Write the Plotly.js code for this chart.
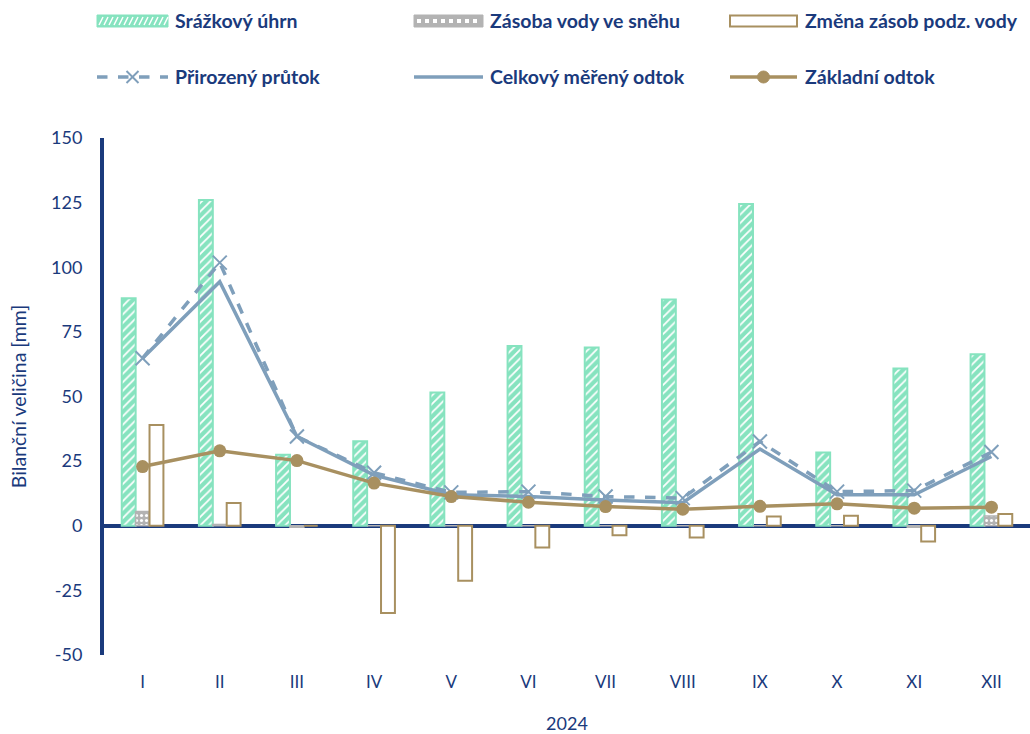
<!DOCTYPE html>
<html>
<head>
<meta charset="utf-8">
<script src="https://cdn.plot.ly/plotly-3.0.1.min.js"></script>
<style>html,body{margin:0;padding:0;background:#fff;}#chart{width:1030px;height:734px;}</style>
</head>
<body>
<div id="chart"></div>
<script>
// ---- data ----
var months = ['I','II','III','IV','V','VI','VII','VIII','IX','X','XI','XII'];
var precipitation = [88, 126, 27.5, 32.7, 51.5, 69.5, 69, 87.5, 124.5, 28.3, 60.8, 66.3];
var snowStorage = [5.5, 0.5, -0.6, 0, 0, 0, 0, 0, 0, 0, -0.6, 3.8];
var groundwaterChange = [39, 8.8, 0, -33.8, -21.3, -8.4, -3.7, -4.5, 3.6, 3.9, -6.1, 4.5];
var naturalFlow = [64.8, 101.8, 34.5, 20.5, 12.9, 13.2, 11.3, 10.7, 32.6, 13.2, 13.6, 28.5];
var measuredOutflow = [64.8, 94.4, 34.5, 19.6, 12, 11.3, 10, 8.9, 29.7, 12, 12, 26.8];
var baseFlow = [22.9, 29, 25.2, 16.5, 11.3, 9.1, 7.4, 6.4, 7.5, 8.5, 6.8, 7.2];
var seriesNames = ['Srážkový úhrn','Zásoba vody ve sněhu','Změna zásob podz. vody','Přirozený průtok','Celkový měřený odtok','Základní odtok'];
var yTicks = [-50,-25,0,25,50,75,100,125,150];

// ---- styles ----
var NAVY = '#1a3a7c';
var MINT = '#86e3bf';
var GREY = '#b3b3b3';
var TAN = '#a89060';
var BLUE = '#7f9fbb';
var FONT = 'Lato, "Open Sans", sans-serif';

var W = 1030, H = 734, ML = 104, MR = 0, MT = 138, MB = 79;
var PW = W - ML - MR, PH = H - MT - MB;
function px(x){ return (x - ML) / PW; }
function py(y){ return (H - MB - y) / PH; }

var traces = [
  {type:'bar', x:months, y:precipitation, name:seriesNames[0],
   marker:{color:MINT, line:{color:MINT, width:2},
           pattern:{shape:'/', fgcolor:'#ffffff', bgcolor:MINT, size:6, solidity:0.3, fillmode:'replace'}}},
  {type:'bar', x:months, y:snowStorage, name:seriesNames[1],
   marker:{color:GREY, line:{color:GREY, width:1.5},
           pattern:{shape:'.', fgcolor:'#ffffff', bgcolor:GREY, size:5, solidity:0.3, fillmode:'replace'}}},
  {type:'bar', x:months, y:groundwaterChange, name:seriesNames[2],
   marker:{color:'#ffffff', line:{color:TAN, width:2}}},
  {type:'scatter', mode:'lines+markers', x:months, y:naturalFlow, name:seriesNames[3],
   line:{color:BLUE, width:3.5, dash:'dash'},
   marker:{symbol:'x-thin', size:14, line:{color:BLUE, width:2}, color:BLUE}},
  {type:'scatter', mode:'lines', x:months, y:measuredOutflow, name:seriesNames[4],
   line:{color:BLUE, width:3.5}},
  {type:'scatter', mode:'lines+markers', x:months, y:baseFlow, name:seriesNames[5],
   line:{color:TAN, width:3.5},
   marker:{symbol:'circle', size:13, color:TAN}}
];

// ---- custom legend (shapes + annotations) ----
var shapes = [];
var annotations = [];
var cols = [[97,168,173],[414,483,488],[730,797,803]];
var rows = [21, 77];
function rect(x0,x1,yc,h,fill,line,lw){
  shapes.push({type:'rect', xref:'paper', yref:'paper', x0:px(x0), x1:px(x1), y0:py(yc+h/2), y1:py(yc-h/2),
               fillcolor:fill, line:{color:line, width:lw}});
}
function seg(x0,y0,x1,y1,color,w,dash){
  shapes.push({type:'line', xref:'paper', yref:'paper', x0:px(x0), y0:py(y0), x1:px(x1), y1:py(y1),
               line:{color:color, width:w, dash:dash||'solid'}});
}
// precipitation symbol with hatch
rect(cols[0][0], cols[0][1], rows[0], 12, MINT, MINT, 1);
(function(){
  var p = '';
  for (var x = cols[0][0] + 2; x < cols[0][1] - 2; x += 5) {
    p += 'M' + px(x) + ',' + py(rows[0]+4) + 'L' + px(x+4) + ',' + py(rows[0]-4);
  }
  shapes.push({type:'path', xref:'paper', yref:'paper', path:p, line:{color:'#ffffff', width:1.5}});
})();
// snow symbol
rect(cols[1][0], cols[1][1], rows[0], 12, GREY, GREY, 1);
seg(cols[1][0]+3, rows[0], cols[1][1]-3, rows[0], '#ffffff', 4, 'dot');
// groundwater symbol
rect(cols[2][0], cols[2][1], rows[0], 11, '#ffffff', TAN, 2);
// natural flow symbol
seg(cols[0][0], rows[1], cols[0][1], rows[1], BLUE, 3.5, 'dash');
var cx = (cols[0][0]+cols[0][1])/2;
seg(cx-6, rows[1]-6, cx+6, rows[1]+6, BLUE, 2);
seg(cx-6, rows[1]+6, cx+6, rows[1]-6, BLUE, 2);
// measured outflow symbol
seg(cols[1][0], rows[1], cols[1][1], rows[1], BLUE, 3.5);
// base flow symbol
seg(cols[2][0], rows[1], cols[2][1], rows[1], TAN, 3.5);
var cx2 = (cols[2][0]+cols[2][1])/2;
shapes.push({type:'circle', xref:'paper', yref:'paper', x0:px(cx2-6), x1:px(cx2+6), y0:py(rows[1]+6), y1:py(rows[1]-6),
             fillcolor:TAN, line:{color:TAN, width:1}});

for (var i = 0; i < 6; i++) {
  var c = cols[i % 3], r = rows[Math.floor(i / 3)];
  annotations.push({xref:'paper', yref:'paper', x:px(c[2]), y:py(r), xanchor:'left', yanchor:'middle',
                    text:'<b>' + seriesNames[i] + '</b>', showarrow:false,
                    font:{family:FONT, size:19.5, color:NAVY}});
}

var layout = {
  width:W, height:H,
  margin:{l:ML, r:MR, t:MT, b:MB, pad:0},
  paper_bgcolor:'#ffffff', plot_bgcolor:'#ffffff',
  showlegend:false,
  barmode:'group', bargap:0.46, bargroupgap:0,
  font:{family:FONT, color:NAVY, size:17},
  xaxis:{type:'category', range:[-0.5, 11.5], autorange:false, showline:false, showgrid:false, zeroline:false, ticks:'',
         tickfont:{family:FONT, size:17, color:NAVY}, ticklabelstandoff:15, automargin:false,
         title:{text:'2024', font:{family:FONT, size:18, color:NAVY}, standoff:28}},
  yaxis:{range:[-50,150], autorange:false, tickvals:yTicks, ticktext:yTicks.map(String), showgrid:false,
         showline:true, linecolor:NAVY, linewidth:4, ticks:'', automargin:false,
         zeroline:true, zerolinecolor:NAVY, zerolinewidth:4,
         tickfont:{family:FONT, size:18, color:NAVY}, ticklabelstandoff:14,
         title:{text:'Bilanční veličina [mm]', font:{family:FONT, size:19.5, color:NAVY}, standoff:20}},
  shapes:shapes,
  annotations:annotations
};

Plotly.newPlot('chart', traces, layout, {displayModeBar:false, staticPlot:true});
</script>
</body>
</html>
